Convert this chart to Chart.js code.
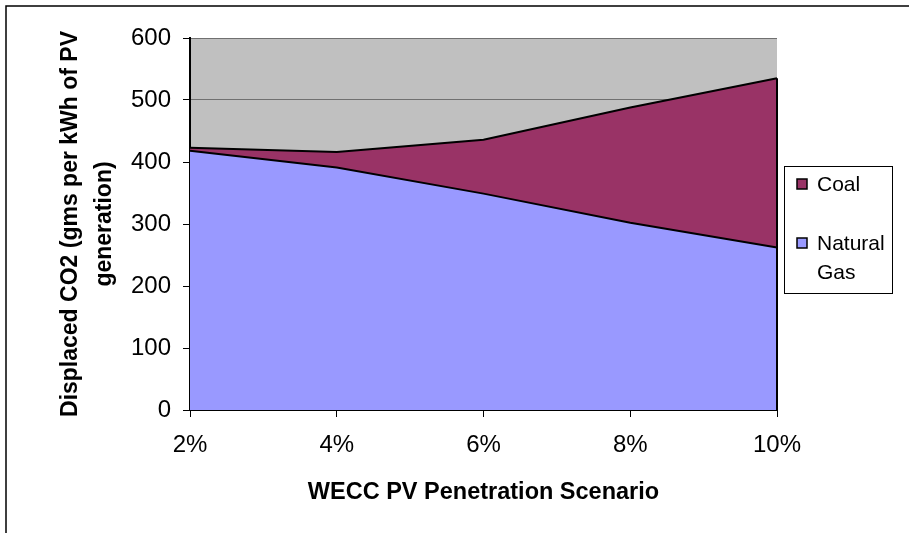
<!DOCTYPE html>
<html>
<head>
<meta charset="utf-8">
<script src="https://cdn.jsdelivr.net/npm/chart.js@4"></script>
<style>
  html, body { margin: 0; padding: 0; background: #fff; }
  #wrap { width: 909px; height: 533px; position: relative; }
</style>
</head>
<body>
<div id="wrap"><canvas id="co2Chart"></canvas></div>
<script>
//DATA
const scenarios  = ['2%', '4%', '6%', '8%', '10%'];
const gasValues  = [418, 391, 349, 302, 262];
const coalValues = [5, 25, 87, 186, 273];
const yTicks     = [0, 100, 200, 300, 400, 500, 600];

const FONT = "'Liberation Sans', Arial, sans-serif";

//PLUGINS: plot background, right edge of the areas, outer frame, legend
const plotBg = {
  id: 'plotBg',
  beforeDraw(chart) {
    const { ctx, chartArea: a } = chart;
    ctx.save();
    ctx.fillStyle = '#C0C0C0';
    ctx.fillRect(a.left, a.top, a.right - a.left, a.bottom - a.top);
    // outer frame (top + left only)
    ctx.strokeStyle = '#000';
    ctx.lineWidth = 1.5;
    ctx.beginPath();
    ctx.moveTo(6, 540);
    ctx.lineTo(6, 6);
    ctx.lineTo(909, 6);
    ctx.stroke();
    ctx.restore();
  }
};

const areaEdges = {
  id: 'areaEdges',
  afterDatasetsDraw(chart) {
    const { ctx, scales: { x, y } } = chart;
    const last = scenarios.length - 1;
    const px = x.getPixelForValue(last);
    const top = gasValues[last] + coalValues[last];
    ctx.save();
    ctx.strokeStyle = '#000';
    ctx.lineWidth = 2;
    ctx.beginPath();
    ctx.moveTo(px, y.getPixelForValue(top));
    ctx.lineTo(px, y.getPixelForValue(0));
    ctx.stroke();
    ctx.restore();
  }
};

const sideLegend = {
  id: 'sideLegend',
  afterDraw(chart) {
    const { ctx } = chart;
    const box = { x: 784, y: 166, w: 108, h: 127 };
    ctx.save();
    ctx.fillStyle = '#fff';
    ctx.fillRect(box.x, box.y, box.w, box.h);
    ctx.strokeStyle = '#000';
    ctx.lineWidth = 1;
    ctx.strokeRect(box.x + 0.5, box.y + 0.5, box.w, box.h);

    const items = [
      { ds: chart.data.datasets[1], lines: ['Coal'], y: 184 },
      { ds: chart.data.datasets[0], lines: ['Natural', 'Gas'], y: 243 }
    ];
    ctx.font = '21px ' + FONT;
    ctx.textBaseline = 'middle';
    ctx.textAlign = 'left';
    items.forEach(it => {
      ctx.fillStyle = it.ds.backgroundColor;
      ctx.fillRect(797, it.y - 5, 10, 10);
      ctx.strokeStyle = '#000';
      ctx.lineWidth = 1.5;
      ctx.strokeRect(797, it.y - 5, 10, 10);
      ctx.fillStyle = '#000';
      it.lines.forEach((t, i) => ctx.fillText(t, 817, it.y + 1 + i * 29));
    });
    ctx.restore();
  }
};

//CHART
Chart.defaults.color = '#000';
Chart.defaults.font.family = FONT;

new Chart(document.getElementById('co2Chart'), {
  type: 'line',
  data: {
    labels: scenarios,
    datasets: [
      { label: 'Natural Gas', data: gasValues, backgroundColor: '#9999FF', borderColor: '#000', borderWidth: 2, fill: 'origin', pointRadius: 0, tension: 0 },
      { label: 'Coal', data: coalValues, backgroundColor: '#993366', borderColor: '#000', borderWidth: 2, fill: '-1', pointRadius: 0, tension: 0 }
    ]
  },
  options: {
    responsive: true, maintainAspectRatio: false, animation: false,
    layout: { padding: { left: 0, top: 38, right: 132, bottom: 0 } },
    plugins: { legend: { display: false }, tooltip: { enabled: false } },
    scales: {
      x: {
        offset: false,
        grid: { drawOnChartArea: false, drawTicks: true, tickLength: 7, color: '#000' },
        border: { color: '#000', width: 2 },
        ticks: { font: { size: 24 }, padding: 14, maxRotation: 0 },
        title: { display: true, text: 'WECC PV Penetration Scenario', font: { size: 23.5, weight: 'bold' }, padding: { top: 0, bottom: 26 } },
        afterFit: s => { s.height = 123; }
      },
      y: {
        stacked: true,
        min: 0, max: 600,
        afterBuildTicks: s => { s.ticks = yTicks.map(v => ({ value: v })); },
        grid: { color: '#707070', lineWidth: 1, tickLength: 7, tickColor: '#000' },
        border: { color: '#000', width: 2 },
        ticks: { font: { size: 24 }, padding: 12 },
        title: { display: true, text: ['Displaced CO2 (gms per kWh of PV', 'generation)'], font: { size: 23, weight: 'bold', lineHeight: 1.5 }, padding: { top: 53, bottom: 0 } },
        afterFit: s => { s.width = 190; }
      }
    }
  },
  plugins: [plotBg, areaEdges, sideLegend]
});
</script>
</body>
</html>
